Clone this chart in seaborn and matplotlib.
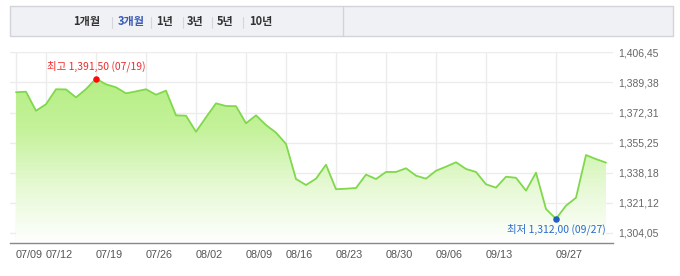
import numpy as np
import pandas as pd
import matplotlib
matplotlib.use("Agg")
import matplotlib.pyplot as plt
import seaborn as sns
from matplotlib.colors import LinearSegmentedColormap
from matplotlib.patches import Rectangle

# ---- data ----
values = [1383.8, 1384.1, 1373.3, 1377.0, 1385.5, 1385.4, 1380.9, 1385.6, 1391.5, 1388.3,
          1386.6, 1383.2, 1384.3, 1385.5, 1382.4, 1384.7, 1370.7, 1370.5, 1361.4, 1369.6,
          1377.5, 1376.0, 1375.9, 1366.2, 1370.7, 1365.2, 1360.9, 1354.5, 1334.6, 1331.2,
          1334.8, 1342.7, 1328.8, 1329.1, 1329.5, 1337.1, 1334.6, 1338.6, 1338.6, 1340.7,
          1336.5, 1334.8, 1339.3, 1341.6, 1344.1, 1340.3, 1338.6, 1331.6, 1329.7, 1335.9,
          1335.3, 1328.0, 1338.2, 1317.6, 1312.0, 1319.5, 1324.0, 1348.2, 1345.9, 1343.9]
tick_idx = [0, 3, 8, 13, 18, 23, 27, 32, 37, 42, 47, 54]
tick_labels = ["07/09", "07/12", "07/19", "07/26", "08/02", "08/09", "08/16",
               "08/23", "08/30", "09/06", "09/13", "09/27"]
y_ticks = [1406.45, 1389.38, 1372.31, 1355.25, 1338.18, 1321.12, 1304.05]
y_labels = ["1,406,45", "1,389,38", "1,372,31", "1,355,25", "1,338,18", "1,321,12", "1,304,05"]
tabs = ["1개월", "3개월", "1년", "3년", "5년", "10년"]
max_label = "최고 1,391,50 (07/19)"
min_label = "최저 1,312,00 (09/27)"

df = pd.DataFrame({"idx": np.arange(len(values)), "value": values})

sns.set_theme(style="white")
plt.rcParams['font.family'] = ['Liberation Sans', 'Noto Sans CJK KR', 'DejaVu Sans']

W, H = 680, 276
fig = plt.figure(figsize=(W / 100, H / 100), dpi=100)
fig.patch.set_facecolor("white")

# ---- tab bar ----
def fx(x): return x / W
def fy(y): return 1 - y / H

bar = Rectangle((fx(10), fy(36)), fx(663), 30 / H, transform=fig.transFigure,
                facecolor="#f0f1f5", edgecolor="#d3d4d9", linewidth=1.0)
fig.add_artist(bar)
fig.add_artist(plt.Line2D([fx(343), fx(343)], [fy(36), fy(6)], transform=fig.transFigure,
                          color="#d3d4d9", linewidth=1.0))
tab_x = [87, 131, 165, 195, 225, 260.5]
for i, (t, x) in enumerate(zip(tabs, tab_x)):
    fig.text(fx(x), fy(22), t, ha="center", va="center", fontsize=8.0, fontweight="bold",
             color="#3a5bb5" if i == 1 else "#333333",
             family=['Noto Sans CJK KR', 'DejaVu Sans'])
sep_x = [112, 151, 183, 212, 243]
for xm in sep_x:
    fig.add_artist(plt.Line2D([fx(xm), fx(xm)], [fy(28), fy(17)], transform=fig.transFigure,
                              color="#d5d6db", linewidth=0.8))

# ---- chart ----
ax_left, ax_right, ax_top, ax_bot = 10, 613, 52.3, 243.3
ax = fig.add_axes([fx(ax_left), fy(ax_bot), (ax_right - ax_left) / W, (ax_bot - ax_top) / H])
ax.set_facecolor("white")
xmin, xmax = -0.6, 59.7
ymin, ymax = 1298.15, 1406.45
ax.set_xlim(xmin, xmax)
ax.set_ylim(ymin, ymax)

# gradient fill under the line
fill = ax.fill_between(df["idx"], df["value"], ymin, facecolor="none", edgecolor="none")
cmap = LinearSegmentedColormap.from_list("g", ["#ffffff", "#e6f9d4", "#c4f29a", "#b4ee82"])
grad = np.linspace(0, 1, 256).reshape(-1, 1)
im = ax.imshow(grad, cmap=cmap, aspect="auto", origin="lower",
               extent=[xmin, xmax, ymin, 1395], zorder=1)
path = fill.get_paths()[0]
im.set_clip_path(path, transform=ax.transData)

sns.lineplot(data=df, x="idx", y="value", ax=ax, color="#80d84c", linewidth=1.3, zorder=3)

# grid
for yt in y_ticks:
    ax.axhline(yt, color="#ececec", linewidth=1.0, zorder=0.5)
for xt in tick_idx:
    ax.axvline(xt, color="#ececec", linewidth=1.0, zorder=0.5)

for s in ["top", "right", "left"]:
    ax.spines[s].set_visible(False)
ax.spines["bottom"].set_color("#888888")
ax.spines["bottom"].set_linewidth(1.0)

ax.set_xticks(tick_idx)
ax.set_xticklabels(tick_labels, ha="left")
ax.tick_params(axis="x", length=3, width=0.8, color="#888888", labelsize=7.8,
               labelcolor="#555555", pad=2)
ax.yaxis.tick_right()
ax.set_yticks(y_ticks)
ax.set_yticklabels(y_labels)
ax.tick_params(axis="y", length=0, labelsize=7.5, labelcolor="#666666", pad=4)
ax.set_xlabel("")
ax.set_ylabel("")

# max / min markers
imax = int(np.argmax(values))
imin = int(np.argmin(values))
ax.scatter([imax], [values[imax]], s=22, color="#ff0a0a", zorder=5, linewidths=0)
ax.scatter([imin], [values[imin]], s=22, color="#1f5fc8", zorder=5, linewidths=0)
ax.annotate(max_label, (imax, values[imax]), xytext=(0, 4.5), textcoords="offset points",
            ha="center", va="bottom", fontsize=7.5, color="#ee2a2a",
            family=['Noto Sans CJK KR', 'DejaVu Sans'], zorder=6)
ax.annotate(min_label, (imin, values[imin]), xytext=(0, -3), textcoords="offset points",
            ha="center", va="top", fontsize=7.5, color="#2a6ad0",
            family=['Noto Sans CJK KR', 'DejaVu Sans'], zorder=6)

fig.savefig("out.png", dpi=100, facecolor="white")
